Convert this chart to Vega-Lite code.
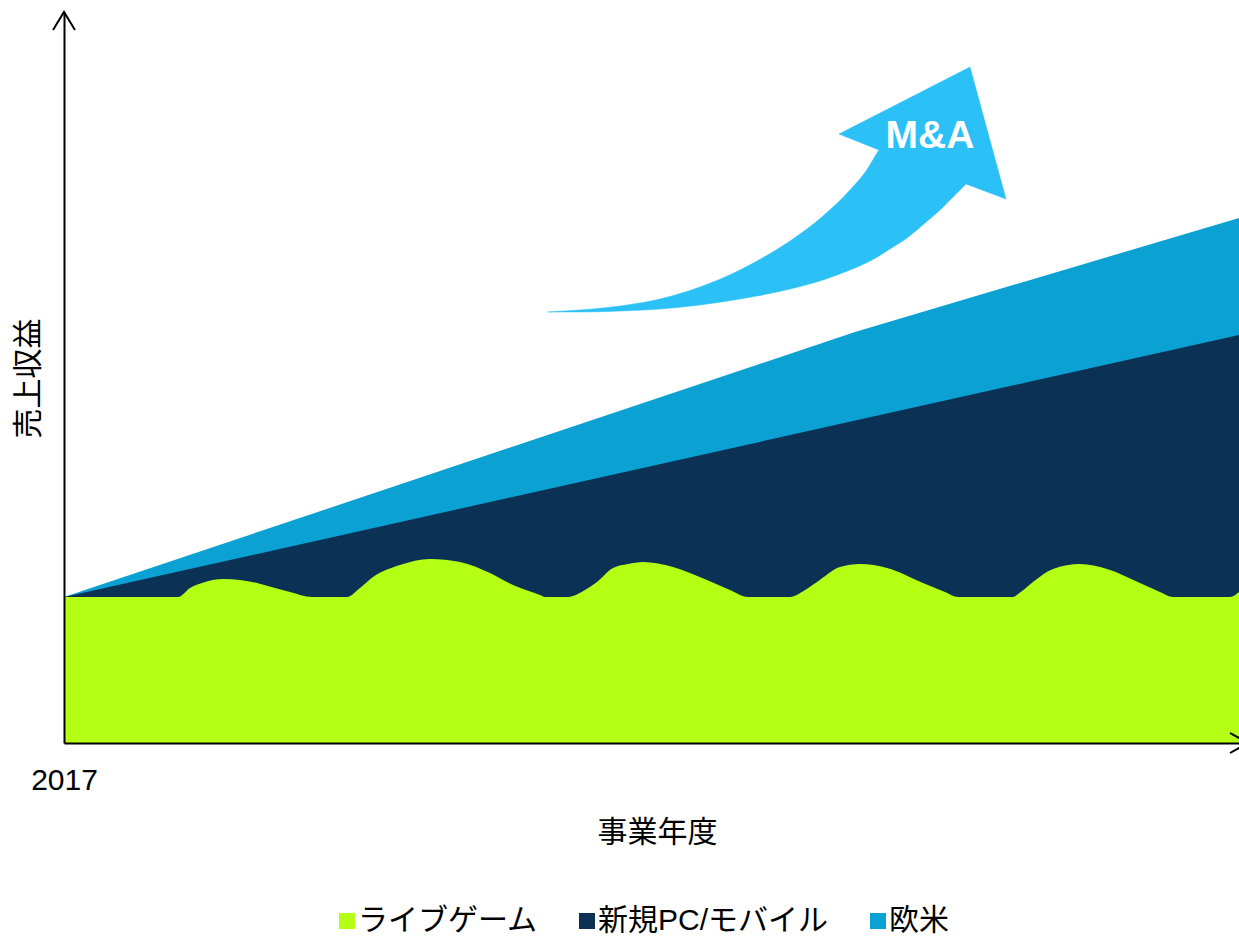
{
  "$schema": "https://vega.github.io/schema/vega-lite/v6.json",
  "width": 1175,
  "height": 731,
  "autosize": {"type": "none"},
  "padding": {"left": 64, "top": 12, "right": 0, "bottom": 194},
  "background": "white",
  "config": {"view": {"stroke": null}, "font": "Liberation Sans, Noto Sans CJK JP"},
  "datasets": {
    "areas": [
      {"series": "欧米", "x": 0, "y": 146},
      {"series": "欧米", "x": 791, "y": 411},
      {"series": "欧米", "x": 1175, "y": 525},
      {"series": "新規PC/モバイル", "x": 0, "y": 146},
      {"series": "新規PC/モバイル", "x": 1175, "y": 408},
      {"series": "ライブゲーム", "x": 0, "y": 146},
      {"series": "ライブゲーム", "x": 114, "y": 146},
      {"series": "ライブゲーム", "x": 126, "y": 155},
      {"series": "ライブゲーム", "x": 141, "y": 161},
      {"series": "ライブゲーム", "x": 159, "y": 164},
      {"series": "ライブゲーム", "x": 176, "y": 163},
      {"series": "ライブゲーム", "x": 193, "y": 160},
      {"series": "ライブゲーム", "x": 211, "y": 155},
      {"series": "ライブゲーム", "x": 226, "y": 151},
      {"series": "ライブゲーム", "x": 248, "y": 146},
      {"series": "ライブゲーム", "x": 283, "y": 146},
      {"series": "ライブゲーム", "x": 296, "y": 155},
      {"series": "ライブゲーム", "x": 309, "y": 166},
      {"series": "ライブゲーム", "x": 336, "y": 178},
      {"series": "ライブゲーム", "x": 366, "y": 184},
      {"series": "ライブゲーム", "x": 396, "y": 181},
      {"series": "ライブゲーム", "x": 426, "y": 170},
      {"series": "ライブゲーム", "x": 449, "y": 158},
      {"series": "ライブゲーム", "x": 476, "y": 148},
      {"series": "ライブゲーム", "x": 481, "y": 146},
      {"series": "ライブゲーム", "x": 504, "y": 146},
      {"series": "ライブゲーム", "x": 521, "y": 153},
      {"series": "ライブゲーム", "x": 533, "y": 161},
      {"series": "ライブゲーム", "x": 549, "y": 175},
      {"series": "ライブゲーム", "x": 564, "y": 179},
      {"series": "ライブゲーム", "x": 579, "y": 181},
      {"series": "ライブゲーム", "x": 609, "y": 176},
      {"series": "ライブゲーム", "x": 643, "y": 163},
      {"series": "ライブゲーム", "x": 666, "y": 153},
      {"series": "ライブゲーム", "x": 684, "y": 146},
      {"series": "ライブゲーム", "x": 726, "y": 146},
      {"series": "ライブゲーム", "x": 741, "y": 153},
      {"series": "ライブゲーム", "x": 753, "y": 161},
      {"series": "ライブゲーム", "x": 776, "y": 176},
      {"series": "ライブゲーム", "x": 796, "y": 179},
      {"series": "ライブゲーム", "x": 823, "y": 175},
      {"series": "ライブゲーム", "x": 859, "y": 160},
      {"series": "ライブゲーム", "x": 881, "y": 151},
      {"series": "ライブゲーム", "x": 894, "y": 146},
      {"series": "ライブゲーム", "x": 948, "y": 146},
      {"series": "ライブゲーム", "x": 958, "y": 152},
      {"series": "ライブゲーム", "x": 969, "y": 161},
      {"series": "ライブゲーム", "x": 989, "y": 174},
      {"series": "ライブゲーム", "x": 1016, "y": 179},
      {"series": "ライブゲーム", "x": 1043, "y": 174},
      {"series": "ライブゲーム", "x": 1076, "y": 160},
      {"series": "ライブゲーム", "x": 1096, "y": 151},
      {"series": "ライブゲーム", "x": 1109, "y": 146},
      {"series": "ライブゲーム", "x": 1166, "y": 146},
      {"series": "ライブゲーム", "x": 1175, "y": 151}
    ],
    "body": [
      {"x": 484, "y": 431, "y2": 431},
      {"x": 516, "y": 433, "y2": 431},
      {"x": 556, "y": 437, "y2": 432},
      {"x": 596, "y": 444, "y2": 434},
      {"x": 636, "y": 456, "y2": 438},
      {"x": 676, "y": 473, "y2": 444},
      {"x": 693, "y": 482, "y2": 447},
      {"x": 726, "y": 502, "y2": 454},
      {"x": 759, "y": 527, "y2": 463},
      {"x": 786, "y": 553, "y2": 473},
      {"x": 802, "y": 572, "y2": 480},
      {"x": 815, "y": 593, "y2": 487},
      {"x": 826, "y": 608, "y2": 494},
      {"x": 843, "y": 620, "y2": 505},
      {"x": 861, "y": 628, "y2": 520},
      {"x": 876, "y": 632, "y2": 533},
      {"x": 891, "y": 634, "y2": 548},
      {"x": 902, "y": 635, "y2": 559}
    ],
    "head": [
      {"i": 0, "x": 815, "y": 593},
      {"i": 1, "x": 775, "y": 609},
      {"i": 2, "x": 906, "y": 676},
      {"i": 3, "x": 942, "y": 544},
      {"i": 4, "x": 902, "y": 559},
      {"i": 5, "x": 815, "y": 593}
    ],
    "heads": [
      {"part": "y", "i": 0, "x": -11, "y": 713},
      {"part": "y", "i": 1, "x": 0, "y": 731},
      {"part": "y", "i": 2, "x": 11, "y": 713},
      {"part": "x", "i": 0, "x": 1166, "y": 10},
      {"part": "x", "i": 1, "x": 1184, "y": 0},
      {"part": "x", "i": 2, "x": 1166, "y": -10}
    ],
    "labels": [
      {"x": 866, "y": 595, "label": "M&A"}
    ]
  },
  "encoding": {
    "x": {
      "field": "x", "type": "quantitative",
      "scale": {"domain": [0, 1175], "nice": false, "zero": false},
      "axis": {
        "values": [0], "labelExpr": "'2017'", "labelFlush": false,
        "domain": true, "domainColor": "#000000", "domainWidth": 2,
        "ticks": false, "tickSize": 0, "grid": false,
        "labelFontSize": 30, "labelColor": "#000000", "labelPadding": 46,
        "labelBaseline": "alphabetic", "labelAlign": "center",
        "labelFont": "Liberation Sans",
        "title": "事業年度", "titleFontSize": 30, "titleFontWeight": "normal",
        "titleColor": "#000000", "titleX": 593, "titleY": 89,
        "titleBaseline": "middle", "titleAlign": "center",
        "titleFont": "Noto Sans CJK JP",
        "zindex": 1
      }
    },
    "y": {
      "field": "y", "type": "quantitative", "stack": null,
      "scale": {"domain": [0, 731], "nice": false, "zero": false},
      "axis": {
        "labels": false, "ticks": false, "grid": false,
        "domain": true, "domainColor": "#000000", "domainWidth": 2,
        "title": "売上収益", "titleFontSize": 30, "titleFontWeight": "normal",
        "titleColor": "#000000", "titleX": -36, "titleY": 366,
        "titleBaseline": "middle", "titleAlign": "center",
        "titleFont": "Noto Sans CJK JP",
        "zindex": 1
      }
    }
  },
  "layer": [
    {
      "data": {"name": "areas"},
      "transform": [{"filter": "datum.series === '欧米'"}],
      "mark": {"type": "area", "interpolate": "linear"},
      "encoding": {
        "y2": {"datum": 0},
        "color": {
          "field": "series", "type": "nominal",
          "scale": {"domain": ["ライブゲーム", "新規PC/モバイル", "欧米"], "range": ["#B5FF14", "#0B3254", "#0BA1D2"]},
          "legend": {"orient": "none", "legendX": 268, "legendY": 894, "direction": "horizontal", "title": null, "symbolType": "square", "symbolSize": 256, "symbolStrokeWidth": 0, "symbolOpacity": 1, "labelFontSize": 30, "labelFont": "Liberation Sans, Noto Sans CJK JP", "labelColor": "#000000", "columnPadding": 34, "labelOffset": -4, "padding": 0, "labelLimit": 0}
        }
      }
    },
    {
      "data": {"name": "areas"},
      "transform": [{"filter": "datum.series === '新規PC/モバイル'"}],
      "mark": {"type": "area", "interpolate": "linear"},
      "encoding": {
        "y2": {"datum": 0},
        "color": {
          "field": "series", "type": "nominal",
          "scale": {"domain": ["ライブゲーム", "新規PC/モバイル", "欧米"], "range": ["#B5FF14", "#0B3254", "#0BA1D2"]},
          "legend": {"orient": "none", "legendX": 268, "legendY": 894, "direction": "horizontal", "title": null, "symbolType": "square", "symbolSize": 256, "symbolStrokeWidth": 0, "symbolOpacity": 1, "labelFontSize": 30, "labelFont": "Liberation Sans, Noto Sans CJK JP", "labelColor": "#000000", "columnPadding": 34, "labelOffset": -4, "padding": 0, "labelLimit": 0}
        }
      }
    },
    {
      "data": {"name": "areas"},
      "transform": [{"filter": "datum.series === 'ライブゲーム'"}],
      "mark": {"type": "area", "interpolate": "monotone"},
      "encoding": {
        "y2": {"datum": 0},
        "color": {
          "field": "series", "type": "nominal",
          "scale": {"domain": ["ライブゲーム", "新規PC/モバイル", "欧米"], "range": ["#B5FF14", "#0B3254", "#0BA1D2"]},
          "legend": {"orient": "none", "legendX": 268, "legendY": 894, "direction": "horizontal", "title": null, "symbolType": "square", "symbolSize": 256, "symbolStrokeWidth": 0, "symbolOpacity": 1, "labelFontSize": 30, "labelFont": "Liberation Sans, Noto Sans CJK JP", "labelColor": "#000000", "columnPadding": 34, "labelOffset": -4, "padding": 0, "labelLimit": 0}
        }
      }
    },
    {
      "data": {"name": "body"},
      "mark": {"type": "area", "interpolate": "monotone", "color": "#2BC0F6", "stroke": "#2BC0F6", "strokeWidth": 0.5},
      "encoding": {"y2": {"field": "y2"}}
    },
    {
      "data": {"name": "head"},
      "mark": {"type": "line", "interpolate": "linear", "fill": "#2BC0F6", "stroke": "#2BC0F6", "strokeWidth": 0.5},
      "encoding": {"order": {"field": "i", "type": "quantitative"}}
    },
    {
      "data": {"name": "labels"},
      "mark": {"type": "text", "font": "Liberation Sans", "fontWeight": "bold", "fontSize": 39, "color": "#FFFFFF", "align": "center", "baseline": "alphabetic"},
      "encoding": {"text": {"field": "label", "type": "nominal"}}
    },
    {
      "data": {"name": "heads"},
      "mark": {"type": "line", "interpolate": "linear", "color": "#000000", "strokeWidth": 2},
      "encoding": {
        "detail": {"field": "part", "type": "nominal"},
        "order": {"field": "i", "type": "quantitative"}
      }
    }
  ]
}
